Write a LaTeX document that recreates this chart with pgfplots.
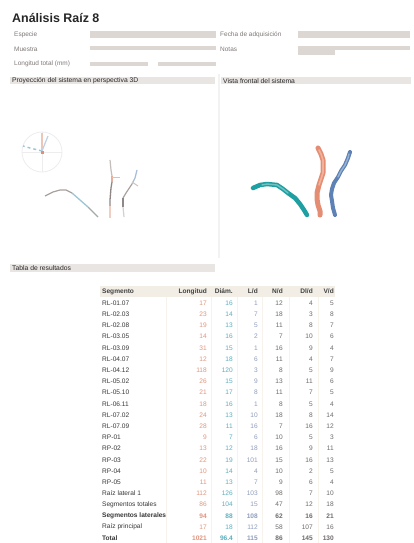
\documentclass[border=0pt]{standalone}
\usepackage{pgfplots}
\pgfplotsset{compat=1.18}
\usepackage{fontspec}
\setmainfont{Liberation Sans}
\definecolor{barg}{HTML}{DDD7D4}
\definecolor{secg}{HTML}{E9E5E3}
\definecolor{lblg}{HTML}{7F7977}
\definecolor{headbg}{HTML}{F2EEE6}
\definecolor{colln}{HTML}{F7F3EC}
\definecolor{teal1}{HTML}{1E9FA2}
\definecolor{teal2}{HTML}{86CBCC}
\definecolor{ora1}{HTML}{E48D72}
\definecolor{ora2}{HTML}{F3BCA6}
\definecolor{blu1}{HTML}{5E82B6}
\definecolor{blu2}{HTML}{A7BEDB}
\definecolor{gA}{HTML}{A9A19E}
\definecolor{gB}{HTML}{8F8785}
\definecolor{lbA}{HTML}{9EC6D2}
\definecolor{pkA}{HTML}{E6AD98}
\definecolor{txc2}{HTML}{E0957E}
\definecolor{txc3}{HTML}{5AAFBE}
\definecolor{txc4}{HTML}{8E9CBB}
\definecolor{txc5}{HTML}{6E6A69}
\pgfplotsset{pane/.style={scale only axis, axis lines=none, y dir=reverse, clip=false, anchor=north west, ymin=88, ymax=258, height=170bp}}
\begin{document}
\begin{tikzpicture}[x=1bp,y=-1bp]
\fill[white] (0,0) rectangle (413,543);
% title
\node[anchor=west,inner sep=0pt,font=\fontsize{12.5}{13}\selectfont\bfseries,text=black!85] at (12,18) {Análisis Raíz 8};
% info rows
\begin{scope}[every node/.style={anchor=west,inner sep=0pt,font=\fontsize{6.5}{7}\selectfont,text=lblg}]
\node at (14,35) {Especie};
\node at (14,49.5) {Muestra};
\node at (14,64) {Longitud total (mm)};
\node at (220,35) {Fecha de adquisición};
\node at (220,49.5) {Notas};
\end{scope}
\fill[barg] (90,31.5) rectangle (216,38.5);
\fill[barg] (298,31.5) rectangle (410,38.5);
\fill[barg] (90,46.5) rectangle (216,50.5);
\fill[barg] (298,46.5) rectangle (410,50.5);
\fill[barg] (298,50.5) rectangle (335,55);
\fill[barg] (90,62) rectangle (148,66.5);
\fill[barg] (158,62) rectangle (216,66.5);
% section headers
\fill[secg] (10,77) rectangle (215,84.5);
\fill[secg] (221,77) rectangle (411,84.5);
\fill[secg] (10,264) rectangle (215,271.5);
\begin{scope}[every node/.style={anchor=west,inner sep=0pt,font=\fontsize{6.8}{7}\selectfont,text=black!85}]
\node at (12,81) {Proyección del sistema en perspectiva 3D};
\node at (223,81) {Vista frontal del sistema};
\node at (12,268) {Tabla de resultados};
\end{scope}
\fill[black!5] (217.5,74) rectangle (219.5,258);
% left pane
\begin{axis}[pane, at={(10bp,-88bp)}, width=205bp, xmin=10, xmax=215]
\draw[black!7,line width=0.8pt] (axis cs:42,152) circle[radius=20bp];
\draw[black!7,line width=0.8pt] (axis cs:22,152) -- (axis cs:62,152);
\draw[black!7,line width=0.8pt] (axis cs:42,132) -- (axis cs:42,172);
\addplot[pkA!70!white,line width=1.3pt] coordinates {(42,133) (42,152)};
\addplot[lbA,line width=1.4pt,dashed] coordinates {(42,151) (30,148) (23,146)};
\addplot[blu2!70!white,line width=1.3pt] coordinates {(42,151) (48,136)};
\addplot[only marks,mark=square*,mark size=1.3pt,ora1] coordinates {(42,152)};
\addplot[gA,line width=1.2pt,line join=round] coordinates {(45,196) (53,192) (60,190) (66,190) (72,193)};
\addplot[lbA,line width=1.3pt,line join=round] coordinates {(72,193) (80,200) (88,207)};
\addplot[gA!80!lbA,line width=1.2pt,line join=round] coordinates {(88,207) (94,213) (98,217)};
\addplot[gA!70!white,line width=1.2pt,line join=round] coordinates {(110,160) (111,170) (112,176)};
\addplot[pkA,line width=1.4pt,line join=round] coordinates {(112,176) (112,182)};
\addplot[gB,line width=1.3pt,line join=round] coordinates {(112,182) (111,188) (110,200) (110,206)};
\addplot[pkA!60!white,line width=1.2pt,line join=round] coordinates {(110,206) (110,212) (110,218)};
\addplot[gA!60!white,line width=1pt] coordinates {(112,177) (120,177)};
\addplot[blu2,line width=1.3pt,line join=round] coordinates {(137,170) (135,178) (132,184)};
\addplot[gA,line width=1.2pt,line join=round] coordinates {(132,184) (126,193) (123,198)};
\addplot[gB,line width=1.3pt,line join=round] coordinates {(123,198) (123,207)};
\addplot[gA!50!white,line width=1.2pt,line join=round] coordinates {(123,207) (124,217)};
\addplot[gA!60!white,line width=1pt] coordinates {(132,182) (138,186)};
\end{axis}
% right pane
\begin{axis}[pane, at={(220bp,-88bp)}, width=190bp, xmin=220, xmax=410]
\addplot[teal1,line width=4.5bp,line join=round,line cap=round] coordinates {(253,188) (260,185) (267,184) (277,185) (283,189) (288,193) (295,198) (300,204) (304,210) (307,215)};
\addplot[teal2,line width=1.4bp,line join=round,line cap=round,opacity=0.8] coordinates {(262,185) (267,184) (277,185) (283,189) (288,193)};
\addplot[ora1,line width=5bp,line join=round,line cap=round] coordinates {(318,148) (321,154) (323,160) (323,167) (323,173) (321,179) (319,185) (317,193) (317,199) (318,205) (320,211) (320,215)};
\addplot[ora2,line width=1.6bp,line join=round,line cap=round,opacity=0.8] coordinates {(319,150) (321,154) (323,160) (323,167) (323,173) (321,179) (319,185)};
\addplot[blu1,line width=4bp,line join=round,line cap=round] coordinates {(350,152) (348,158) (345,165) (341,171) (338,177) (334,183) (332,189) (331,195) (332,201) (333,208) (335,215)};
\addplot[blu2,line width=1.4bp,line join=round,line cap=round,opacity=0.8] coordinates {(349,154) (348,158) (345,165) (341,171) (338,177)};
\end{axis}
% table
\fill[headbg] (100,286) rectangle (335,297);
\foreach \xx in {166,211,237,262,289,318} {\fill[colln] (\xx,297) rectangle (\xx+1.2,543);}
\begin{scope}[every node/.style={inner sep=0pt,font=\fontsize{6.6}{7}\selectfont\bfseries,text=black!75}]
\node[anchor=west] at (102,291.5) {Segmento};
\node[anchor=east] at (207,291.5) {Longitud};
\node[anchor=east] at (233,291.5) {Diám.};
\node[anchor=east] at (258,291.5) {L/d};
\node[anchor=east] at (283,291.5) {N/d};
\node[anchor=east] at (313,291.5) {Dl/d};
\node[anchor=east] at (334,291.5) {V/d};
\end{scope}
\foreach \i/\n/\a/\b/\c/\d/\e/\f/\w in {
1/RL-01.07/17/16/1/12/4/5/m,
2/RL-02.03/23/14/7/18/3/8/m,
3/RL-02.08/19/13/5/11/8/7/m,
4/RL-03.05/14/16/2/7/10/6/m,
5/RL-03.09/31/15/1/16/9/4/m,
6/RL-04.07/12/18/6/11/4/7/m,
7/RL-04.12/118/120/3/8/5/9/m,
8/RL-05.02/26/15/9/13/11/6/m,
9/RL-05.10/21/17/8/11/7/5/m,
10/RL-06.11/18/16/1/8/5/4/m,
11/RL-07.02/24/13/10/18/8/14/m,
12/RL-07.09/28/11/16/7/16/12/m,
13/RP-01/9/7/6/10/5/3/m,
14/RP-02/13/12/18/16/9/11/m,
15/RP-03/22/19/101/15/16/13/m,
16/RP-04/10/14/4/10/2/5/m,
17/RP-05/11/13/7/9/6/4/m,
18/{Raíz lateral 1}/112/126/103/98/7/10/m,
19/{Segmentos totales}/86/104/15/47/12/18/m,
20/{Segmentos laterales}/94/88/108/62/16/21/b,
21/{Raíz principal}/17/18/112/58/107/16/m,
22/Total/1021/96.4/115/86/145/130/b} {
\pgfmathsetmacro\yy{303+11.2*(\i-1)}
\begin{scope}[every node/.style={inner sep=0pt,font=\fontsize{6.6}{7}\selectfont\fontseries{\w}\selectfont}]
\node[anchor=west,text=black!78] at (102,\yy) {\n};
\node[anchor=east,text=txc2] at (207,\yy) {\a};
\node[anchor=east,text=txc3] at (233,\yy) {\b};
\node[anchor=east,text=txc4] at (258,\yy) {\c};
\node[anchor=east,text=txc5] at (283,\yy) {\d};
\node[anchor=east,text=txc5] at (313,\yy) {\e};
\node[anchor=east,text=txc5] at (334,\yy) {\f};
\end{scope}
}
\end{tikzpicture}
\end{document}
